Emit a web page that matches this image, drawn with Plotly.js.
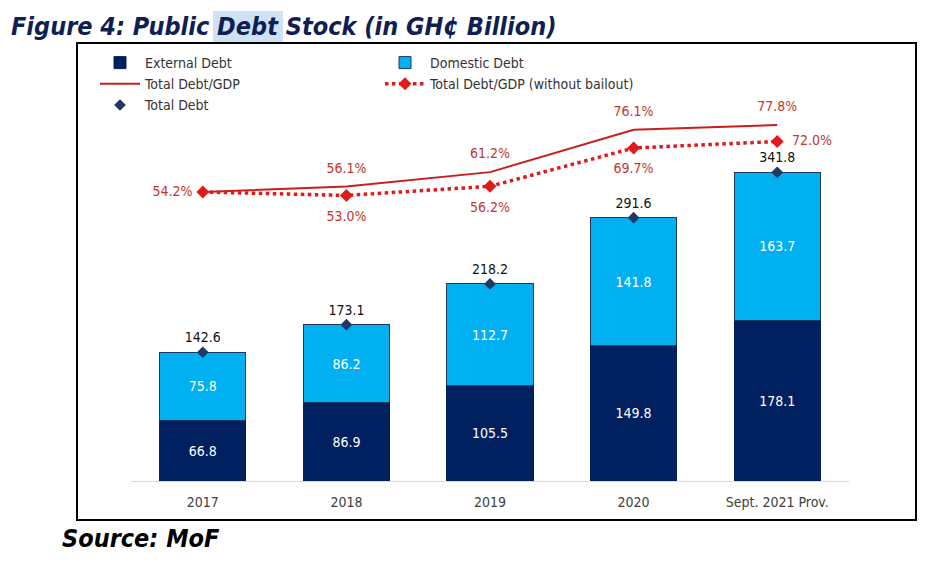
<!DOCTYPE html>
<html>
<head>
<meta charset="utf-8">
<script src="https://cdn.plot.ly/plotly-3.0.1.min.js"></script>
<style>html,body{margin:0;padding:0;background:#fff;}#chart{width:943px;height:568px;}</style>
</head>
<body>
<div id="chart"></div>
<script>
var categories = ["2017", "2018", "2019", "2020", "Sept. 2021 Prov."];
var externalDebt = [66.8, 86.9, 105.5, 149.8, 178.1];
var domesticDebt = [75.8, 86.2, 112.7, 141.8, 163.7];
var totalDebt = [142.6, 173.1, 218.2, 291.6, 341.8];
var debtToGdp = [54.2, 56.1, 61.2, 76.1, 77.8];
var debtToGdpNoBailout = [54.2, 53.0, 56.2, 69.7, 72.0];

var narrow = "DejaVu Sans Condensed, Arial Narrow, sans-serif";
var heavy = "DejaVu Sans Condensed, DejaVu Sans, Verdana, sans-serif";

function pct(arr) { return arr.map(function (v) { return v.toFixed(1) + "%"; }); }

var solidText = pct(debtToGdp);
var dottedText = pct(debtToGdpNoBailout);
dottedText[0] = "";

var traces = [
  {
    type: "bar", name: "External Debt", x: categories, y: externalDebt,
    width: 0.6,
    marker: { color: "#002060", line: { color: "#002060", width: 1 } },
    text: externalDebt.map(function (v) { return v.toFixed(1); }),
    textposition: "inside", insidetextanchor: "middle",
    textfont: { color: "#ffffff", size: 14, family: narrow },
    hoverinfo: "skip"
  },
  {
    type: "bar", name: "Domestic Debt", x: categories, y: domesticDebt,
    width: 0.6,
    marker: { color: "#00b0f0", line: { color: "#1f3864", width: 1 } },
    text: domesticDebt.map(function (v) { return v.toFixed(1); }),
    textposition: "inside", insidetextanchor: "middle",
    textfont: { color: "#ffffff", size: 14, family: narrow },
    hoverinfo: "skip"
  },
  {
    type: "scatter", mode: "lines", name: "Total Debt/GDP", x: categories, y: debtToGdp,
    yaxis: "y2", line: { color: "#c81e1e", width: 2 }
  },
  {
    type: "scatter", mode: "lines+markers", name: "Total Debt/GDP (without bailout)",
    x: categories, y: debtToGdpNoBailout, yaxis: "y2",
    line: { color: "#e01b1b", width: 3.5, dash: "dot" },
    marker: { symbol: "diamond", size: 10, color: "#e01b1b" }
  },
  {
    type: "scatter", mode: "markers+text", name: "Total Debt", x: categories, y: totalDebt,
    marker: { symbol: "diamond", size: 9, color: "#1f3864" },
    text: totalDebt.map(function (v) { return v.toFixed(1); }),
    textposition: "top center",
    textfont: { color: "#111111", size: 14, family: narrow },
    cliponaxis: false
  },
  {
    type: "scatter", mode: "markers+text", showlegend: false, x: categories, y: debtToGdp,
    yaxis: "y2", marker: { size: 15, opacity: 0 },
    text: solidText,
    textposition: ["middle left", "top center", "top center", "top center", "top center"],
    textfont: { color: "#c0392b", size: 14, family: narrow },
    cliponaxis: false, hoverinfo: "skip"
  },
  {
    type: "scatter", mode: "markers+text", showlegend: false, x: categories, y: debtToGdpNoBailout,
    yaxis: "y2", marker: { size: 22, opacity: 0 },
    text: dottedText,
    textposition: ["bottom center", "bottom center", "bottom center", "bottom center", "middle right"],
    textfont: { color: "#c0392b", size: 14, family: narrow },
    cliponaxis: false, hoverinfo: "skip"
  }
];

function px(x) { return (x - 131) / 718; }
function py(y) { return (481 - y) / 421; }

var layout = {
  width: 943, height: 568,
  margin: { l: 131, r: 94, t: 60, b: 87, autoexpand: false },
  paper_bgcolor: "#ffffff", plot_bgcolor: "#ffffff",
  barmode: "stack",
  showlegend: true,
  legend: {
    orientation: "h", traceorder: "normal",
    x: px(95), xanchor: "left", y: py(47), yanchor: "top",
    entrywidth: 230,
    font: { family: narrow, size: 14, color: "#333333" },
    bgcolor: "rgba(0,0,0,0)", tracegroupgap: 0, itemwidth: 40
  },
  xaxis: {
    type: "category", range: [-0.5, 4.5],
    showgrid: false, zeroline: false,
    showline: true, linecolor: "#d9d9d9", linewidth: 1,
    ticks: "", ticklabelstandoff: 8,
    tickfont: { family: narrow, size: 14, color: "#404040" },
    fixedrange: true
  },
  yaxis: {
    range: [0, 466.2], visible: false, showgrid: false, zeroline: false, fixedrange: true
  },
  yaxis2: {
    range: [-47.6, 100.7], overlaying: "y", side: "right", visible: false,
    showgrid: false, zeroline: false, fixedrange: true
  },
  shapes: [
    { type: "rect", xref: "paper", yref: "paper", x0: px(213), x1: px(283), y0: py(44), y1: py(11),
      fillcolor: "#cfe2f3", line: { width: 0 }, layer: "below" },
    { type: "rect", xref: "paper", yref: "paper", x0: px(77), x1: px(916), y0: py(520), y1: py(43),
      fillcolor: "rgba(0,0,0,0)", line: { color: "#000000", width: 2 }, layer: "above" }
  ],
  annotations: [
    { xref: "paper", yref: "paper", x: px(9), y: py(27), xanchor: "left", yanchor: "middle",
      showarrow: false, text: "<b><i>Figure 4: Public Debt Stock (in GH¢ Billion)</i></b>",
      font: { family: heavy, size: 25, color: "#0f1f54" } },
    { xref: "paper", yref: "paper", x: px(60), y: py(538), xanchor: "left", yanchor: "middle",
      showarrow: false, text: "<b><i>Source: MoF</i></b>",
      font: { family: heavy, size: 25, color: "#000000" } }
  ]
};

Plotly.newPlot("chart", traces, layout, { displayModeBar: false, staticPlot: true });
</script>
</body>
</html>
